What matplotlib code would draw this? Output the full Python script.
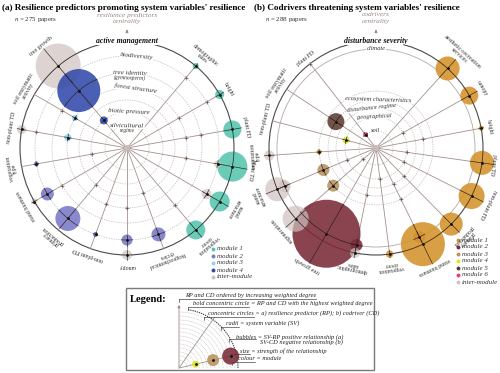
import numpy as np
import matplotlib.pyplot as plt
from matplotlib.patches import Circle, Rectangle

plt.rcParams['font.family'] = ['Liberation Serif', 'DejaVu Serif']
plt.rcParams['mathtext.fontset'] = 'stix'

# ---------------- panel (a): resilience predictors ----------------
sv_a = ["tree growth", "soil enzymatic activity", "non-plant TD", "vegetation type",
        "stand biomass", "primary production", "non-plant FD", "canopy",
        "biogeochemical cycles", "vegetation cover", "stand structure", "plant TD",
        "plant FD", "height", "demographic rates"]
rp_a = ["silvicultural\nregime", "biotic pressure", "", "forest structure",
        "tree identity\n(gymnosperm)", "biodiversity", "active management"]
rp_a_deg = [22, 36, 48, 60, 75, 92, 107]      # weighted degree -> radial order
mod_a = ["module 1", "module 2", "module 3", "module 4", "inter-module"]
col_a = ["#55c5ad", "#7a79c6", "#8ed2f0", "#3249aa", "#cfc1be"]
# (system variable, resilience predictor, strength, module)
bub_a = [(0, 6, 22.5, 4), (0, 4, 21.5, 3), (0, 1, 4, 3),
         (1, 3, 3, 2),
         (2, 6, 4.5, 4), (2, 3, 3.5, 2),
         (3, 5, 2.5, 1),
         (4, 6, 3, 4), (4, 5, 6.5, 1),
         (5, 5, 12.5, 1),
         (6, 5, 2.5, 1),
         (7, 6, 5, 4), (7, 5, 5.5, 1),
         (8, 5, 7, 1),
         (9, 6, 9.5, 0),
         (10, 6, 10, 0), (10, 5, 5, 4),
         (11, 6, 15, 0), (11, 5, 3.5, 4),
         (12, 6, 9, 0),
         (13, 6, 4.5, 0),
         (14, 6, 3, 0)]
# weak links drawn as tiny marks
weak_a = [(2, 5), (3, 1), (4, 4), (5, 2), (6, 3), (7, 3), (8, 2), (9, 4), (11, 3),
          (12, 3), (12, 4), (13, 3), (13, 5), (14, 5), (1, 4)]

# ---------------- panel (b): codrivers ----------------
sv_b = ["plant FD", "soil enzymatic activity", "non-plant TD", "vegetation type",
        "stand structure", "regeneration", "tree growth", "demographic rates",
        "vegetation cover", "stand biomass", "primary production", "non-plant FD",
        "plant TD", "height", "canopy", "aesthetic-recreation services"]
cd_b = ["soil", "geographical", "disturbance regime", "ecosystem characteristics", "",
        "climate", "disturbance severity"]
cd_b_deg = [17, 31, 40, 48, 57, 99, 107]
mod_b = ["module 1", "module 2", "module 3", "module 4", "module 5", "module 6",
         "inter-module"]
col_b = ["#d4922b", "#7a2a38", "#b9925d", "#dce22b", "#5d3b31", "#ea3c7c", "#cfc1be"]
bub_b = [(0, 0, 2.5, 5), (1, 3, 8.5, 4), (2, 1, 3.5, 3), (3, 4, 2.5, 0), (3, 6, 5, 6),
         (4, 4, 6, 2), (4, 6, 12, 6), (4, 5, 6, 6),
         (5, 4, 6, 2), (5, 6, 13, 6),
         (6, 5, 34, 1),
         (7, 5, 6, 1), (7, 6, 5, 6),
         (8, 6, 3.7, 0),
         (9, 6, 22, 0), (9, 5, 6, 0),
         (10, 6, 11.5, 0), (11, 6, 13, 0), (12, 6, 12, 0), (13, 6, 2.5, 0),
         (14, 6, 9, 0), (15, 6, 12, 0)]
weak_b = [(14, 1), (11, 1), (9, 2), (9, 4), (8, 1), (7, 3), (5, 0), (4, 1), (12, 1),
          (0, 6), (10, 2), (13, 3)]

legend_items = [
    ("RP and CD ordered by increasing weighted degree", None),
    ("bold concentric circle = RP and CD with the highest weighted degree", "bold concentric circle"),
    ("concentric circles = a) resilience predictor (RP); b) codriver (CD)", "concentric circles"),
    ("radii = system variable (SV)", "radii"),
    ("bubbles = SV-RP positive relationship (a)\nSV-CD negative relationship (b)", "bubbles"),
    ("size = strength of the relationship", "size"),
    ("colour = module", "colour"),
]
legend_demo = [(3.5, "#dce22b"), (6, "#b9925d"), (8.5, "#7a2a38")]

SPOKE = "#a3918c"
TXT2 = "#9b8a84"

fig = plt.figure(figsize=(5, 3.73), dpi=100)
ax = fig.add_axes([0, 0, 1, 1])
ax.set_xlim(0, 500)
ax.set_ylim(373, 0)
ax.set_aspect('equal')
ax.axis('off')


def polar(cx, cy, r, deg):
    t = np.deg2rad(deg)
    return cx + r * np.cos(t), cy - r * np.sin(t)


def wrap(s):
    if len(s) > 13 and " " in s:
        i = s.rfind(" ")
        return s[:i] + "\n" + s[i + 1:]
    return s


def panel(cx, cy, sv, ang, rings, lv, bubbles, weak, cols, lab_ang, fs_ring, climate=None):
    R = lv[-1]
    # grid rings
    for k, r in enumerate(lv[:-1]):
        if climate is not None and k == climate:
            ax.add_patch(Circle((cx, cy), r, fill=False, ec="#b0aaa8", lw=0.6, zorder=1))
        else:
            ax.add_patch(Circle((cx, cy), r, fill=False, ec="#bdbdbd", lw=0.5,
                                ls=(0, (2, 1.5)), zorder=1))
    ax.add_patch(Circle((cx, cy), R, fill=False, ec="#4a4a4a", lw=0.8, zorder=1))
    # spokes
    for a in ang:
        x, y = polar(cx, cy, np.array([0, R]), a)
        ax.plot(x, y, color=SPOKE, lw=0.6, zorder=2)
    ax.add_patch(Circle((cx, cy), 3, fc="#c9bcb8", ec="none", zorder=2))
    # bubbles, biggest first
    inter = len(cols) - 1
    for si, ri, s, m in sorted(bubbles, key=lambda b: -b[2]):
        r, a = lv[ri], ang[si]
        x, y = polar(cx, cy, r, a)
        ax.add_patch(Circle((x, y), s, fc=cols[m], ec="none",
                            alpha=0.7 if m == inter else 0.88, zorder=3))
    for si, ri, s, m in bubbles:
        r, a = lv[ri], ang[si]
        xs, ys = polar(cx, cy, np.array([r - s, r + s]), a)
        ax.plot(xs, ys, color="#2a2020", lw=0.45, zorder=4)
        d = np.rad2deg(s / r)
        ts = np.linspace(a - d, a + d, 12)
        xs, ys = polar(cx, cy, r, ts)
        ax.plot(xs, ys, color="#2a2020", lw=0.45, zorder=4)
        x, y = polar(cx, cy, r, a)
        ax.plot(x, y, 'o', ms=1.0, color="#111", zorder=5)
    for si, ri in weak:
        x, y = polar(cx, cy, lv[ri], ang[si])
        ax.add_patch(Circle((x, y), 1.6, fc="#c4b6b2", ec="none", zorder=3))
        ax.plot(x, y, '+', ms=2.2, mew=0.4, color="#5a4a46", zorder=4)
    # system variable labels
    for i, (name, a) in enumerate(zip(sv, ang)):
        ext = max([lv[ri] + s - R for si, ri, s, m in bubbles if si == i] + [0])
        lab = wrap(name)
        nl = lab.count("\n") + 1
        rl = R + 4 + 0.85 * ext + 2.8 * nl
        x, y = polar(cx, cy, rl, a)
        if x > 493:
            x, y = polar(cx, cy, rl - (x - 493) / max(np.cos(np.deg2rad(a)), 0.3), a)
        ax.text(x, y, lab, rotation=(a - 90) % 360, ha='center', va='center',
                rotation_mode='anchor', fontsize=4.3, linespacing=0.9,
                multialignment='center', color="#333", zorder=6)
    # ring labels
    for k, (name, r) in enumerate(zip(rings, lv)):
        if not name:
            continue
        a = lab_ang[k]
        lines = name.split("\n")
        last = k == len(rings) - 1
        x, y = polar(cx, cy, r, a)
        ax.text(x, y, lines[0], rotation=a - 90, ha='center', va='center',
                rotation_mode='anchor', fontsize=5.6 if last else fs_ring,
                style='italic', fontweight='bold' if last else 'normal',
                color="#111" if last else "#333", zorder=7,
                bbox=dict(fc='white', ec='none', pad=0.2))
        if len(lines) > 1:
            x, y = polar(cx, cy, r - 5, a)
            ax.text(x, y, lines[1], rotation=a - 90, ha='center', va='center',
                    rotation_mode='anchor', fontsize=fs_ring * 0.8, style='italic',
                    color="#333", zorder=7, bbox=dict(fc='white', ec='none', pad=0.1))


def modules(x, y0, names, cols):
    for k, (n, c) in enumerate(zip(names, cols)):
        y = y0 + 7 * k
        ax.plot(x, y, 'o', ms=2.8, color=c, mec='none')
        ax.text(x + 4, y, n, fontsize=5.0, style='italic', va='center', ha='left',
                color="#333")


cxa, cya = 127, 148
cxb, cyb = 376, 148
ang_a = 130 + 20 * np.arange(len(sv_a))
ang_b = 128 + 280 / (len(sv_b) - 1) * np.arange(len(sv_b))

panel(cxa, cya, sv_a, ang_a, rp_a, rp_a_deg, bub_a, weak_a, col_a,
      [89, 87, None, 82, 88, 84, 90], 5.0)
panel(cxb, cyb, sv_b, ang_b, cd_b, cd_b_deg, bub_b, weak_b, col_b,
      [90, 93, 96, 88, None, 90, 90], 4.7, climate=5)

# titles
ax.text(2, 8, "(a) Resilience predictors promoting system variables' resilience",
        fontsize=6.6, fontweight='bold', va='center', ha='left')
ax.text(254, 8, "(b) Codrivers threatening system variables' resilience",
        fontsize=6.6, fontweight='bold', va='center', ha='left')
ax.text(14, 19, r"$n$ = 275 papers", fontsize=5, va='center', ha='left', color="#333")
ax.text(265, 19, r"$n$ = 288 papers", fontsize=5, va='center', ha='left', color="#333")
for cx, top in [(cxa, "resilience predictors"), (cxb, "codrivers")]:
    ax.text(cx, 15, top, fontsize=5.3, style='italic', color=TXT2, ha='center', va='center')
    ax.text(cx, 21.5, "centrality", fontsize=5.3, style='italic', color=TXT2,
            ha='center', va='center')
    ax.annotate('', xy=(cx, 26.5), xytext=(cx, 36),
                arrowprops=dict(arrowstyle='-|>', color=TXT2, lw=0.6, mutation_scale=4))

modules(213, 249, mod_a, col_a)
modules(458, 240, mod_b, col_b)

# ---------------- legend box ----------------
ax.add_patch(Rectangle((126, 288), 248, 82, fill=False, ec="#7a7a7a", lw=1.0))
ax.text(130, 299, "Legend:", fontsize=7.6, fontweight='bold', va='center', ha='left')
ox, oy = 179, 368
for r in np.arange(8, 58, 4):
    ts = np.linspace(0, 90, 40)
    xs, ys = polar(ox, oy, r, ts)
    ax.plot(xs, ys, color="#c3c3c3", lw=0.45, ls=(0, (1.5, 1)))
ts = np.linspace(0, 82, 40)
xs, ys = polar(ox, oy, 59, ts)
ax.plot(xs, ys, color="#444", lw=0.8, ls=(0, (1.2, 0.8)))
ax.annotate('', xy=(ox, 302), xytext=(ox, 370),
            arrowprops=dict(arrowstyle='-|>', color=TXT2, lw=0.6, mutation_scale=4))
xs, ys = polar(ox, oy, np.array([0, 62]), 55)
ax.plot(xs, ys, color=SPOKE, lw=0.6)
xs, ys = polar(ox, oy, np.array([0, 62]), 13)
ax.plot(xs, ys, color=SPOKE, lw=0.6)
for k, (s, c) in enumerate(legend_demo):
    r = 17 + 18 * k
    x, y = polar(ox, oy, r, 13)
    ax.add_patch(Circle((x, y), s, fc=c, ec='none', alpha=0.88, zorder=3))
    ax.plot(x, y, 'o', ms=1.0, color="#111", zorder=5)

leg_x = [185, 193, 208, 226, 236, 240, 238]
leg_y = [295, 304, 313.5, 323.5, 339.5, 351, 359]
leg_anchor = [179, 188, 204, 221, 229, 231, 232]
leg_line = [298.5, 307, 316.5, 326.8, 339.3, 353.8, 361.8]
fig.canvas.draw()
rend = fig.canvas.get_renderer()
inv = ax.transData.inverted()
for (txt, key), x, y, x0, yl in zip(legend_items, leg_x, leg_y, leg_anchor, leg_line):
    t = ax.text(x, y, txt, fontsize=4.6, style='italic', va='center', ha='left',
                color="#222", linespacing=0.95, multialignment='right')
    probe = ax.text(x, y, key if key else txt, fontsize=4.6, style='italic',
                    va='center', ha='left')
    bb = probe.get_window_extent(rend)
    x1 = inv.transform((bb.x1, bb.y0))[0]
    probe.remove()
    ax.plot([x0, x1], [yl, yl], color="#333", lw=0.45)
    ax.plot([x0, x0], [yl, yl + 3], color="#333", lw=0.45)

fig.savefig("out.png", dpi=100)
